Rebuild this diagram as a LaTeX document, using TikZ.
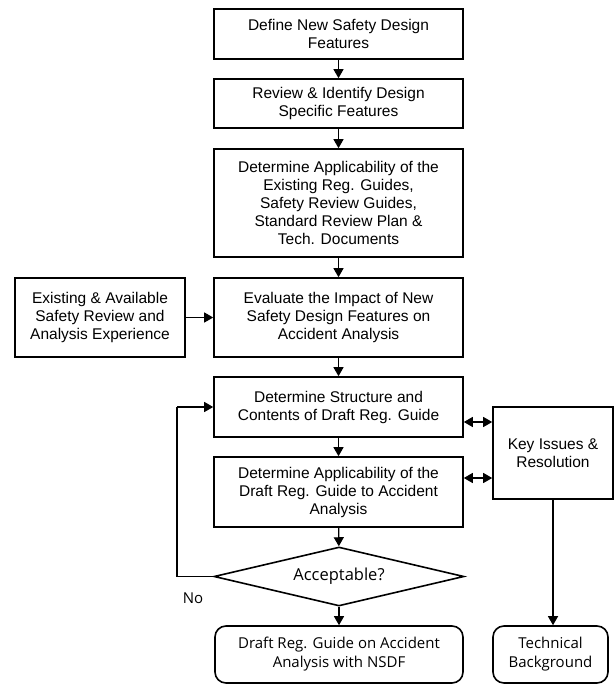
\documentclass[tikz,border=0pt]{standalone}
\usepackage{fontspec}
\setmainfont{Liberation Sans}
\newfontfamily\segoe{Open Sans}
\usetikzlibrary{shapes.geometric,arrows.meta}
\begin{document}
\begin{tikzpicture}[x=1pt,y=-1pt,
  box/.style={draw,line width=1.6pt,rectangle,align=center,inner sep=2pt,
    font=\fontsize{15.5}{18}\selectfont},
  rbox/.style={box,rounded corners=11pt,font=\segoe\fontsize{15}{19}\selectfont},
  dec/.style={draw,line width=1.6pt,diamond,aspect=4.2,inner sep=0pt,
    font=\segoe\fontsize{16.5}{19}\selectfont},
  conn/.style={line width=1.2pt,-{Triangle[length=9pt,width=10pt]}},
  dconn/.style={line width=1.2pt,{Triangle[length=9pt,width=10pt]}-{Triangle[length=9pt,width=10pt]}}]
\useasboundingbox (0,0) rectangle (614,684);
\node[box,minimum width=249pt,minimum height=50pt] (b1) at (338.5,34) {Define New Safety Design\\Features};
\node[box,minimum width=249pt,minimum height=49pt] (b2) at (338.5,103.5) {Review \& Identify Design\\Specific Features};
\node[box,minimum width=249pt,minimum height=108pt] (b3) at (338.5,203) {Determine Applicability of the\\Existing Reg. Guides,\\Safety Review Guides,\\Standard Review Plan \&\\Tech. Documents};
\node[box,minimum width=249pt,minimum height=79pt] (b4) at (338.5,317.5) {Evaluate the Impact of New\\Safety Design Features on\\Accident Analysis};
\node[box,minimum width=170pt,minimum height=79pt] (ex) at (100,317.5) {Existing \& Available\\Safety Review and\\Analysis Experience};
\node[box,minimum width=249pt,minimum height=60pt] (b5) at (338.5,407) {Determine Structure and\\Contents of Draft Reg. Guide};
\node[box,minimum width=249pt,minimum height=70pt] (b6) at (338.5,492) {Determine Applicability of the\\Draft Reg. Guide to Accident\\Analysis};
\node[box,minimum width=120pt,minimum height=92pt] (key) at (553,453) {Key Issues \&\\Resolution};
\node[dec,minimum width=250pt,minimum height=59pt] (acc) at (339,576.5) {Acceptable?};
\node[rbox,minimum width=248pt,minimum height=57pt] (out) at (339,654.5) {Draft Reg. Guide on Accident\\Analysis with NSDF};
\node[rbox,minimum width=115pt,minimum height=57pt] (tech) at (550.5,654.5) {Technical\\Background};
\node[font=\segoe\fontsize{15}{18}\selectfont] (no) at (193,598) {No};
\coordinate (lp1) at (177,576.5);
\coordinate (lp2) at (177,407);
\draw[conn] (b1) -- (b2);
\draw[conn] (b2) -- (b3);
\draw[conn] (b3) -- (b4);
\draw[conn] (ex) -- (b4);
\draw[conn] (b4) -- (b5);
\draw[conn] (b5) -- (b6);
\draw[conn] (b6) -- (acc);
\draw[conn] (acc) -- (out);
\draw[dconn] (b5.east |- 0,422) -- (key.west |- 0,422);
\draw[dconn] (b6.east |- 0,478) -- (key.west |- 0,478);
\draw[line width=1.2pt] (acc.west) -- (lp1) -- (lp2);
\draw[conn] (lp2) -- (b5.west);
\draw[conn] (key.south) -- (key.south |- tech.north);
\end{tikzpicture}
\end{document}
